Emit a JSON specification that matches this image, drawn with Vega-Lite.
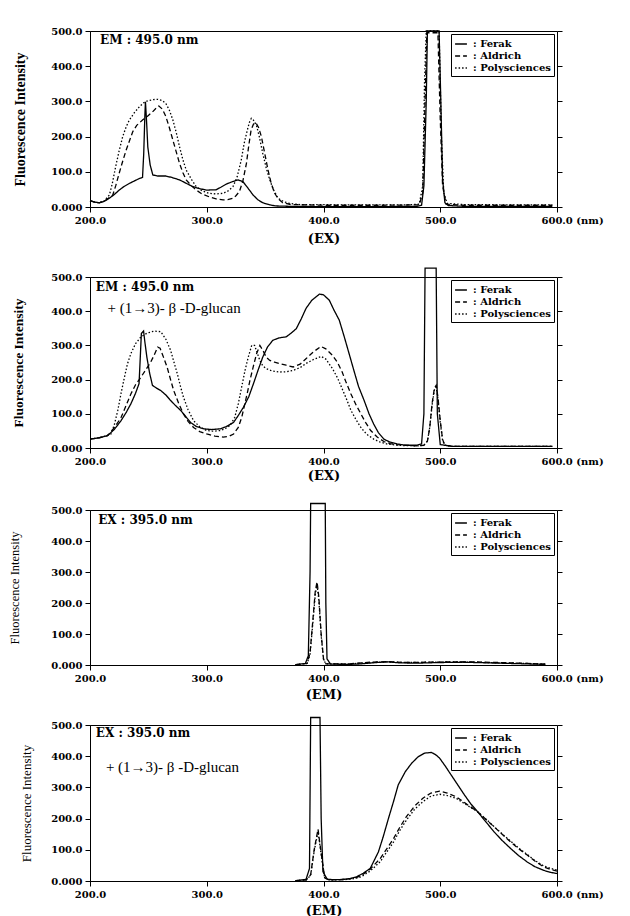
{
"$schema": "https://vega.github.io/schema/vega-lite/v6.json",
"padding": {"left": 8, "top": 25, "right": 5, "bottom": 5},
"background": "white",
"config": {
 "view": {"stroke": "#000", "strokeWidth": 1},
 "axis": {"domainColor": "#000", "tickColor": "#000", "labelColor": "#000", "titleColor": "#000", "grid": false, "tickSize": 5, "labelFont": "DejaVu Serif", "labelFontWeight": "bold", "labelFontSize": 10, "labelFlush": false, "labelPadding": 3, "titleFont": "Liberation Serif", "titleFontSize": 14},
 "legend": {"orient": "top-right", "offset": 3, "strokeColor": "#000", "fillColor": "white", "padding": 3, "rowPadding": 0, "symbolType": "stroke", "symbolSize": 140, "symbolStrokeWidth": 1.2, "symbolStrokeColor": "#000", "labelFont": "DejaVu Serif", "labelFontWeight": "bold", "labelFontSize": 10, "labelColor": "#000", "labelOffset": 5, "cornerRadius": 0},
 "line": {"color": "#000", "strokeWidth": 1.3},
 "text": {"color": "#000"}
},
"datasets": {
 "p1": [
 {"s":"Ferak","nm":200,"v":18},{"s":"Ferak","nm":204,"v":14},{"s":"Ferak","nm":208,"v":12},{"s":"Ferak","nm":212,"v":16},{"s":"Ferak","nm":216.6,"v":25},{"s":"Ferak","nm":221,"v":36},{"s":"Ferak","nm":225,"v":48},{"s":"Ferak","nm":229,"v":58},{"s":"Ferak","nm":233.7,"v":67},{"s":"Ferak","nm":238,"v":74},{"s":"Ferak","nm":242.3,"v":81},{"s":"Ferak","nm":245,"v":84},{"s":"Ferak","nm":246,"v":150},{"s":"Ferak","nm":247,"v":260},{"s":"Ferak","nm":247.5,"v":299},{"s":"Ferak","nm":248.5,"v":240},{"s":"Ferak","nm":249.5,"v":171},{"s":"Ferak","nm":251.5,"v":120},{"s":"Ferak","nm":253.8,"v":91},{"s":"Ferak","nm":258,"v":88},{"s":"Ferak","nm":265,"v":88},{"s":"Ferak","nm":270,"v":84},{"s":"Ferak","nm":276.7,"v":77},{"s":"Ferak","nm":282,"v":68},{"s":"Ferak","nm":288,"v":58},{"s":"Ferak","nm":294,"v":52},{"s":"Ferak","nm":300,"v":48},{"s":"Ferak","nm":308,"v":49},{"s":"Ferak","nm":312,"v":56},{"s":"Ferak","nm":316.7,"v":65},{"s":"Ferak","nm":322,"v":72},{"s":"Ferak","nm":326.8,"v":77},{"s":"Ferak","nm":331,"v":72},{"s":"Ferak","nm":335,"v":55},{"s":"Ferak","nm":339.7,"v":34},{"s":"Ferak","nm":344,"v":20},{"s":"Ferak","nm":348,"v":12},{"s":"Ferak","nm":354,"v":6},{"s":"Ferak","nm":359,"v":3},{"s":"Ferak","nm":370,"v":2},{"s":"Ferak","nm":400,"v":1},{"s":"Ferak","nm":450,"v":1},{"s":"Ferak","nm":480,"v":2},{"s":"Ferak","nm":484,"v":5},{"s":"Ferak","nm":486,"v":60},{"s":"Ferak","nm":488,"v":300},{"s":"Ferak","nm":489,"v":500},{"s":"Ferak","nm":499,"v":500},{"s":"Ferak","nm":500.5,"v":300},{"s":"Ferak","nm":502,"v":80},{"s":"Ferak","nm":504,"v":12},{"s":"Ferak","nm":507,"v":4},{"s":"Ferak","nm":520,"v":2},{"s":"Ferak","nm":560,"v":2},{"s":"Ferak","nm":596,"v":2},
 {"s":"Aldrich","nm":200,"v":18},{"s":"Aldrich","nm":204,"v":14},{"s":"Aldrich","nm":208,"v":12},{"s":"Aldrich","nm":213,"v":18},{"s":"Aldrich","nm":219.5,"v":34},{"s":"Aldrich","nm":222,"v":60},{"s":"Aldrich","nm":225,"v":96},{"s":"Aldrich","nm":228,"v":130},{"s":"Aldrich","nm":231,"v":162},{"s":"Aldrich","nm":236.6,"v":214},{"s":"Aldrich","nm":240,"v":232},{"s":"Aldrich","nm":245,"v":247},{"s":"Aldrich","nm":250,"v":260},{"s":"Aldrich","nm":253.8,"v":271},{"s":"Aldrich","nm":257,"v":282},{"s":"Aldrich","nm":259,"v":287},{"s":"Aldrich","nm":262,"v":278},{"s":"Aldrich","nm":265,"v":257},{"s":"Aldrich","nm":268,"v":225},{"s":"Aldrich","nm":271,"v":190},{"s":"Aldrich","nm":274,"v":155},{"s":"Aldrich","nm":276.7,"v":124},{"s":"Aldrich","nm":279.5,"v":98},{"s":"Aldrich","nm":282.4,"v":77},{"s":"Aldrich","nm":287,"v":60},{"s":"Aldrich","nm":291,"v":48},{"s":"Aldrich","nm":296,"v":37},{"s":"Aldrich","nm":302,"v":29},{"s":"Aldrich","nm":308,"v":23},{"s":"Aldrich","nm":314,"v":20},{"s":"Aldrich","nm":318,"v":21},{"s":"Aldrich","nm":322.5,"v":25},{"s":"Aldrich","nm":325,"v":32},{"s":"Aldrich","nm":328,"v":44},{"s":"Aldrich","nm":331,"v":75},{"s":"Aldrich","nm":334,"v":124},{"s":"Aldrich","nm":336,"v":175},{"s":"Aldrich","nm":338,"v":219},{"s":"Aldrich","nm":340,"v":235},{"s":"Aldrich","nm":342,"v":240},{"s":"Aldrich","nm":344.5,"v":225},{"s":"Aldrich","nm":346.8,"v":200},{"s":"Aldrich","nm":349.5,"v":155},{"s":"Aldrich","nm":352.5,"v":105},{"s":"Aldrich","nm":355,"v":70},{"s":"Aldrich","nm":358,"v":40},{"s":"Aldrich","nm":361,"v":24},{"s":"Aldrich","nm":365,"v":12},{"s":"Aldrich","nm":372,"v":7},{"s":"Aldrich","nm":400,"v":5},{"s":"Aldrich","nm":450,"v":5},{"s":"Aldrich","nm":482,"v":6},{"s":"Aldrich","nm":485,"v":40},{"s":"Aldrich","nm":487,"v":300},{"s":"Aldrich","nm":488.5,"v":495},{"s":"Aldrich","nm":498,"v":495},{"s":"Aldrich","nm":500,"v":250},{"s":"Aldrich","nm":502,"v":60},{"s":"Aldrich","nm":505,"v":8},{"s":"Aldrich","nm":520,"v":5},{"s":"Aldrich","nm":560,"v":5},{"s":"Aldrich","nm":596,"v":5},
 {"s":"Polysciences","nm":200,"v":18},{"s":"Polysciences","nm":204,"v":14},{"s":"Polysciences","nm":208,"v":12},{"s":"Polysciences","nm":212,"v":17},{"s":"Polysciences","nm":216.6,"v":34},{"s":"Polysciences","nm":219,"v":65},{"s":"Polysciences","nm":222,"v":115},{"s":"Polysciences","nm":225,"v":160},{"s":"Polysciences","nm":228,"v":200},{"s":"Polysciences","nm":231,"v":228},{"s":"Polysciences","nm":233.7,"v":247},{"s":"Polysciences","nm":238,"v":268},{"s":"Polysciences","nm":242.3,"v":285},{"s":"Polysciences","nm":246,"v":296},{"s":"Polysciences","nm":249.5,"v":302},{"s":"Polysciences","nm":254,"v":305},{"s":"Polysciences","nm":258,"v":306},{"s":"Polysciences","nm":262,"v":302},{"s":"Polysciences","nm":265,"v":294},{"s":"Polysciences","nm":268,"v":275},{"s":"Polysciences","nm":271,"v":247},{"s":"Polysciences","nm":274,"v":210},{"s":"Polysciences","nm":276.7,"v":171},{"s":"Polysciences","nm":279.5,"v":135},{"s":"Polysciences","nm":282.4,"v":105},{"s":"Polysciences","nm":287,"v":78},{"s":"Polysciences","nm":291,"v":58},{"s":"Polysciences","nm":296,"v":46},{"s":"Polysciences","nm":302,"v":39},{"s":"Polysciences","nm":308,"v":37},{"s":"Polysciences","nm":314,"v":39},{"s":"Polysciences","nm":318,"v":45},{"s":"Polysciences","nm":322.5,"v":58},{"s":"Polysciences","nm":326,"v":85},{"s":"Polysciences","nm":329.6,"v":134},{"s":"Polysciences","nm":332,"v":180},{"s":"Polysciences","nm":334.8,"v":219},{"s":"Polysciences","nm":336.5,"v":240},{"s":"Polysciences","nm":338.2,"v":252},{"s":"Polysciences","nm":340,"v":247},{"s":"Polysciences","nm":342.5,"v":233},{"s":"Polysciences","nm":345,"v":200},{"s":"Polysciences","nm":348,"v":152},{"s":"Polysciences","nm":351,"v":110},{"s":"Polysciences","nm":354,"v":77},{"s":"Polysciences","nm":357,"v":50},{"s":"Polysciences","nm":361,"v":25},{"s":"Polysciences","nm":366,"v":15},{"s":"Polysciences","nm":371,"v":10},{"s":"Polysciences","nm":380,"v":7},{"s":"Polysciences","nm":420,"v":6},{"s":"Polysciences","nm":470,"v":6},{"s":"Polysciences","nm":482,"v":8},{"s":"Polysciences","nm":485,"v":60},{"s":"Polysciences","nm":486.5,"v":350},{"s":"Polysciences","nm":488,"v":500},{"s":"Polysciences","nm":499,"v":500},{"s":"Polysciences","nm":501,"v":200},{"s":"Polysciences","nm":503,"v":40},{"s":"Polysciences","nm":506,"v":10},{"s":"Polysciences","nm":520,"v":7},{"s":"Polysciences","nm":560,"v":6},{"s":"Polysciences","nm":596,"v":6}
 ],
 "p2": [
 {"s":"Ferak","nm":200,"v":26},{"s":"Ferak","nm":208,"v":30},{"s":"Ferak","nm":215,"v":36},{"s":"Ferak","nm":221,"v":55},{"s":"Ferak","nm":226.6,"v":80},{"s":"Ferak","nm":231,"v":104},{"s":"Ferak","nm":235,"v":129},{"s":"Ferak","nm":239,"v":160},{"s":"Ferak","nm":242,"v":188},{"s":"Ferak","nm":243,"v":260},{"s":"Ferak","nm":244,"v":335},{"s":"Ferak","nm":245.9,"v":342},{"s":"Ferak","nm":247,"v":310},{"s":"Ferak","nm":248.7,"v":266},{"s":"Ferak","nm":251,"v":220},{"s":"Ferak","nm":253.5,"v":183},{"s":"Ferak","nm":257,"v":175},{"s":"Ferak","nm":260.6,"v":168},{"s":"Ferak","nm":265,"v":155},{"s":"Ferak","nm":269,"v":139},{"s":"Ferak","nm":273,"v":125},{"s":"Ferak","nm":277.6,"v":110},{"s":"Ferak","nm":282,"v":92},{"s":"Ferak","nm":286,"v":75},{"s":"Ferak","nm":291,"v":63},{"s":"Ferak","nm":297.4,"v":56},{"s":"Ferak","nm":304,"v":54},{"s":"Ferak","nm":311.6,"v":56},{"s":"Ferak","nm":317,"v":63},{"s":"Ferak","nm":323,"v":75},{"s":"Ferak","nm":327,"v":95},{"s":"Ferak","nm":331.4,"v":119},{"s":"Ferak","nm":336,"v":150},{"s":"Ferak","nm":340,"v":188},{"s":"Ferak","nm":344,"v":228},{"s":"Ferak","nm":348,"v":266},{"s":"Ferak","nm":352,"v":295},{"s":"Ferak","nm":356.6,"v":315},{"s":"Ferak","nm":362,"v":322},{"s":"Ferak","nm":368,"v":325},{"s":"Ferak","nm":372,"v":335},{"s":"Ferak","nm":376.7,"v":349},{"s":"Ferak","nm":381,"v":378},{"s":"Ferak","nm":385,"v":408},{"s":"Ferak","nm":390,"v":432},{"s":"Ferak","nm":396.5,"v":450},{"s":"Ferak","nm":400,"v":448},{"s":"Ferak","nm":405,"v":432},{"s":"Ferak","nm":409,"v":403},{"s":"Ferak","nm":413.5,"v":374},{"s":"Ferak","nm":417.8,"v":325},{"s":"Ferak","nm":422,"v":275},{"s":"Ferak","nm":426,"v":227},{"s":"Ferak","nm":430,"v":180},{"s":"Ferak","nm":434.8,"v":139},{"s":"Ferak","nm":439,"v":100},{"s":"Ferak","nm":443,"v":70},{"s":"Ferak","nm":447,"v":45},{"s":"Ferak","nm":451.7,"v":26},{"s":"Ferak","nm":457,"v":17},{"s":"Ferak","nm":463,"v":12},{"s":"Ferak","nm":470,"v":8},{"s":"Ferak","nm":480,"v":8},{"s":"Ferak","nm":484,"v":12},{"s":"Ferak","nm":486,"v":100},{"s":"Ferak","nm":487,"v":526},{"s":"Ferak","nm":496.5,"v":526},{"s":"Ferak","nm":497.5,"v":100},{"s":"Ferak","nm":500,"v":10},{"s":"Ferak","nm":510,"v":5},{"s":"Ferak","nm":550,"v":5},{"s":"Ferak","nm":596,"v":5},
 {"s":"Aldrich","nm":200,"v":26},{"s":"Aldrich","nm":208,"v":30},{"s":"Aldrich","nm":215,"v":36},{"s":"Aldrich","nm":221,"v":60},{"s":"Aldrich","nm":226.6,"v":89},{"s":"Aldrich","nm":231,"v":125},{"s":"Aldrich","nm":235,"v":158},{"s":"Aldrich","nm":239,"v":185},{"s":"Aldrich","nm":243.6,"v":207},{"s":"Aldrich","nm":248,"v":230},{"s":"Aldrich","nm":252,"v":251},{"s":"Aldrich","nm":255,"v":272},{"s":"Aldrich","nm":258,"v":295},{"s":"Aldrich","nm":260,"v":292},{"s":"Aldrich","nm":263,"v":265},{"s":"Aldrich","nm":266,"v":237},{"s":"Aldrich","nm":269,"v":200},{"s":"Aldrich","nm":271.7,"v":168},{"s":"Aldrich","nm":276,"v":130},{"s":"Aldrich","nm":280,"v":100},{"s":"Aldrich","nm":284,"v":78},{"s":"Aldrich","nm":288.7,"v":60},{"s":"Aldrich","nm":294,"v":48},{"s":"Aldrich","nm":300,"v":41},{"s":"Aldrich","nm":307,"v":35},{"s":"Aldrich","nm":314,"v":32},{"s":"Aldrich","nm":319,"v":34},{"s":"Aldrich","nm":323,"v":41},{"s":"Aldrich","nm":327,"v":60},{"s":"Aldrich","nm":330,"v":90},{"s":"Aldrich","nm":333,"v":135},{"s":"Aldrich","nm":335,"v":165},{"s":"Aldrich","nm":337,"v":198},{"s":"Aldrich","nm":340,"v":240},{"s":"Aldrich","nm":342.7,"v":276},{"s":"Aldrich","nm":345.5,"v":300},{"s":"Aldrich","nm":348,"v":286},{"s":"Aldrich","nm":351,"v":265},{"s":"Aldrich","nm":354,"v":256},{"s":"Aldrich","nm":358,"v":251},{"s":"Aldrich","nm":362.3,"v":247},{"s":"Aldrich","nm":368,"v":242},{"s":"Aldrich","nm":374,"v":237},{"s":"Aldrich","nm":380,"v":245},{"s":"Aldrich","nm":385,"v":261},{"s":"Aldrich","nm":391,"v":280},{"s":"Aldrich","nm":397.7,"v":297},{"s":"Aldrich","nm":402,"v":290},{"s":"Aldrich","nm":407.7,"v":271},{"s":"Aldrich","nm":412,"v":250},{"s":"Aldrich","nm":416,"v":222},{"s":"Aldrich","nm":419,"v":195},{"s":"Aldrich","nm":423.5,"v":158},{"s":"Aldrich","nm":428,"v":125},{"s":"Aldrich","nm":432,"v":100},{"s":"Aldrich","nm":436,"v":75},{"s":"Aldrich","nm":440.4,"v":51},{"s":"Aldrich","nm":446,"v":32},{"s":"Aldrich","nm":451.7,"v":19},{"s":"Aldrich","nm":457,"v":13},{"s":"Aldrich","nm":463,"v":10},{"s":"Aldrich","nm":480,"v":6},{"s":"Aldrich","nm":486,"v":8},{"s":"Aldrich","nm":489,"v":20},{"s":"Aldrich","nm":491,"v":60},{"s":"Aldrich","nm":493,"v":130},{"s":"Aldrich","nm":495,"v":175},{"s":"Aldrich","nm":496.5,"v":183},{"s":"Aldrich","nm":498,"v":150},{"s":"Aldrich","nm":500,"v":80},{"s":"Aldrich","nm":502,"v":25},{"s":"Aldrich","nm":504,"v":8},{"s":"Aldrich","nm":510,"v":5},{"s":"Aldrich","nm":550,"v":5},{"s":"Aldrich","nm":596,"v":5},
 {"s":"Polysciences","nm":200,"v":26},{"s":"Polysciences","nm":208,"v":30},{"s":"Polysciences","nm":213,"v":35},{"s":"Polysciences","nm":218,"v":41},{"s":"Polysciences","nm":221,"v":70},{"s":"Polysciences","nm":223.8,"v":110},{"s":"Polysciences","nm":226.6,"v":160},{"s":"Polysciences","nm":229.5,"v":207},{"s":"Polysciences","nm":232,"v":245},{"s":"Polysciences","nm":235,"v":276},{"s":"Polysciences","nm":239,"v":305},{"s":"Polysciences","nm":243.6,"v":325},{"s":"Polysciences","nm":249,"v":336},{"s":"Polysciences","nm":255,"v":342},{"s":"Polysciences","nm":260.6,"v":340},{"s":"Polysciences","nm":265,"v":318},{"s":"Polysciences","nm":269,"v":286},{"s":"Polysciences","nm":272,"v":250},{"s":"Polysciences","nm":274.8,"v":217},{"s":"Polysciences","nm":277.5,"v":180},{"s":"Polysciences","nm":280,"v":149},{"s":"Polysciences","nm":284,"v":112},{"s":"Polysciences","nm":288.7,"v":80},{"s":"Polysciences","nm":294,"v":62},{"s":"Polysciences","nm":300,"v":51},{"s":"Polysciences","nm":306,"v":49},{"s":"Polysciences","nm":311.6,"v":51},{"s":"Polysciences","nm":316,"v":57},{"s":"Polysciences","nm":320,"v":66},{"s":"Polysciences","nm":324,"v":90},{"s":"Polysciences","nm":327,"v":129},{"s":"Polysciences","nm":330,"v":180},{"s":"Polysciences","nm":332.8,"v":227},{"s":"Polysciences","nm":335.5,"v":265},{"s":"Polysciences","nm":338.5,"v":300},{"s":"Polysciences","nm":341,"v":300},{"s":"Polysciences","nm":343,"v":280},{"s":"Polysciences","nm":345.5,"v":256},{"s":"Polysciences","nm":348,"v":240},{"s":"Polysciences","nm":351,"v":232},{"s":"Polysciences","nm":356,"v":225},{"s":"Polysciences","nm":362,"v":222},{"s":"Polysciences","nm":368,"v":223},{"s":"Polysciences","nm":374,"v":227},{"s":"Polysciences","nm":380,"v":235},{"s":"Polysciences","nm":385,"v":247},{"s":"Polysciences","nm":391,"v":258},{"s":"Polysciences","nm":398,"v":268},{"s":"Polysciences","nm":402,"v":260},{"s":"Polysciences","nm":407.7,"v":232},{"s":"Polysciences","nm":412,"v":205},{"s":"Polysciences","nm":416,"v":173},{"s":"Polysciences","nm":419.5,"v":145},{"s":"Polysciences","nm":423.5,"v":110},{"s":"Polysciences","nm":428,"v":82},{"s":"Polysciences","nm":432,"v":60},{"s":"Polysciences","nm":437,"v":40},{"s":"Polysciences","nm":443,"v":26},{"s":"Polysciences","nm":448,"v":18},{"s":"Polysciences","nm":454,"v":12},{"s":"Polysciences","nm":463,"v":8},{"s":"Polysciences","nm":480,"v":6},{"s":"Polysciences","nm":486,"v":8},{"s":"Polysciences","nm":489,"v":20},{"s":"Polysciences","nm":491,"v":60},{"s":"Polysciences","nm":493,"v":125},{"s":"Polysciences","nm":495,"v":170},{"s":"Polysciences","nm":496.5,"v":178},{"s":"Polysciences","nm":498,"v":145},{"s":"Polysciences","nm":500,"v":75},{"s":"Polysciences","nm":502,"v":22},{"s":"Polysciences","nm":504,"v":8},{"s":"Polysciences","nm":510,"v":5},{"s":"Polysciences","nm":550,"v":5},{"s":"Polysciences","nm":596,"v":5}
 ],
 "p3": [
 {"s":"Ferak","nm":376,"v":1},{"s":"Ferak","nm":384.5,"v":5},{"s":"Ferak","nm":387,"v":30},{"s":"Ferak","nm":388.5,"v":300},{"s":"Ferak","nm":389,"v":521},{"s":"Ferak","nm":401.5,"v":521},{"s":"Ferak","nm":402,"v":200},{"s":"Ferak","nm":403,"v":20},{"s":"Ferak","nm":406,"v":3},{"s":"Ferak","nm":420,"v":2},{"s":"Ferak","nm":430,"v":3},{"s":"Ferak","nm":445,"v":8},{"s":"Ferak","nm":455,"v":10},{"s":"Ferak","nm":465,"v":7},{"s":"Ferak","nm":480,"v":6},{"s":"Ferak","nm":500,"v":8},{"s":"Ferak","nm":520,"v":9},{"s":"Ferak","nm":540,"v":7},{"s":"Ferak","nm":560,"v":5},{"s":"Ferak","nm":590,"v":2},
 {"s":"Aldrich","nm":376,"v":1},{"s":"Aldrich","nm":386,"v":5},{"s":"Aldrich","nm":388.5,"v":40},{"s":"Aldrich","nm":391,"v":150},{"s":"Aldrich","nm":393,"v":240},{"s":"Aldrich","nm":394.5,"v":268},{"s":"Aldrich","nm":396,"v":220},{"s":"Aldrich","nm":398,"v":100},{"s":"Aldrich","nm":400,"v":20},{"s":"Aldrich","nm":402,"v":4},{"s":"Aldrich","nm":420,"v":3},{"s":"Aldrich","nm":440,"v":9},{"s":"Aldrich","nm":455,"v":11},{"s":"Aldrich","nm":470,"v":8},{"s":"Aldrich","nm":490,"v":9},{"s":"Aldrich","nm":510,"v":10},{"s":"Aldrich","nm":530,"v":10},{"s":"Aldrich","nm":550,"v":8},{"s":"Aldrich","nm":575,"v":5},{"s":"Aldrich","nm":590,"v":3},
 {"s":"Polysciences","nm":376,"v":1},{"s":"Polysciences","nm":386,"v":5},{"s":"Polysciences","nm":388.5,"v":35},{"s":"Polysciences","nm":391,"v":140},{"s":"Polysciences","nm":393,"v":230},{"s":"Polysciences","nm":394.5,"v":258},{"s":"Polysciences","nm":396,"v":210},{"s":"Polysciences","nm":398,"v":95},{"s":"Polysciences","nm":400,"v":18},{"s":"Polysciences","nm":402,"v":4},{"s":"Polysciences","nm":420,"v":3},{"s":"Polysciences","nm":440,"v":8},{"s":"Polysciences","nm":455,"v":10},{"s":"Polysciences","nm":470,"v":8},{"s":"Polysciences","nm":490,"v":9},{"s":"Polysciences","nm":510,"v":10},{"s":"Polysciences","nm":530,"v":9},{"s":"Polysciences","nm":550,"v":7},{"s":"Polysciences","nm":575,"v":5},{"s":"Polysciences","nm":590,"v":3}
 ],
 "p4": [
 {"s":"Ferak","nm":376,"v":1},{"s":"Ferak","nm":385,"v":5},{"s":"Ferak","nm":388,"v":40},{"s":"Ferak","nm":389,"v":524},{"s":"Ferak","nm":397,"v":524},{"s":"Ferak","nm":398,"v":200},{"s":"Ferak","nm":399.5,"v":30},{"s":"Ferak","nm":403.3,"v":5},{"s":"Ferak","nm":415,"v":4},{"s":"Ferak","nm":423,"v":8},{"s":"Ferak","nm":428.7,"v":14},{"s":"Ferak","nm":434,"v":25},{"s":"Ferak","nm":440,"v":40},{"s":"Ferak","nm":447,"v":93},{"s":"Ferak","nm":451,"v":140},{"s":"Ferak","nm":455.6,"v":200},{"s":"Ferak","nm":460,"v":255},{"s":"Ferak","nm":464,"v":308},{"s":"Ferak","nm":470,"v":350},{"s":"Ferak","nm":475.4,"v":377},{"s":"Ferak","nm":481,"v":398},{"s":"Ferak","nm":486.7,"v":410},{"s":"Ferak","nm":492.4,"v":412},{"s":"Ferak","nm":496,"v":405},{"s":"Ferak","nm":499.4,"v":394},{"s":"Ferak","nm":504,"v":370},{"s":"Ferak","nm":509.3,"v":340},{"s":"Ferak","nm":515,"v":308},{"s":"Ferak","nm":520.7,"v":276},{"s":"Ferak","nm":526,"v":248},{"s":"Ferak","nm":532,"v":222},{"s":"Ferak","nm":539,"v":190},{"s":"Ferak","nm":546,"v":158},{"s":"Ferak","nm":553,"v":130},{"s":"Ferak","nm":560.3,"v":104},{"s":"Ferak","nm":567,"v":82},{"s":"Ferak","nm":574.5,"v":61},{"s":"Ferak","nm":581,"v":46},{"s":"Ferak","nm":588.7,"v":34},{"s":"Ferak","nm":594,"v":28},{"s":"Ferak","nm":600,"v":24},
 {"s":"Aldrich","nm":376,"v":1},{"s":"Aldrich","nm":385,"v":3},{"s":"Aldrich","nm":389,"v":20},{"s":"Aldrich","nm":392,"v":100},{"s":"Aldrich","nm":395.3,"v":166},{"s":"Aldrich","nm":398,"v":90},{"s":"Aldrich","nm":401,"v":10},{"s":"Aldrich","nm":405,"v":3},{"s":"Aldrich","nm":420,"v":6},{"s":"Aldrich","nm":427,"v":10},{"s":"Aldrich","nm":432.6,"v":18},{"s":"Aldrich","nm":440,"v":38},{"s":"Aldrich","nm":448.6,"v":72},{"s":"Aldrich","nm":454,"v":102},{"s":"Aldrich","nm":460,"v":136},{"s":"Aldrich","nm":465,"v":170},{"s":"Aldrich","nm":471,"v":206},{"s":"Aldrich","nm":478,"v":240},{"s":"Aldrich","nm":485.4,"v":266},{"s":"Aldrich","nm":492,"v":282},{"s":"Aldrich","nm":499.6,"v":288},{"s":"Aldrich","nm":506,"v":282},{"s":"Aldrich","nm":513.7,"v":270},{"s":"Aldrich","nm":522,"v":248},{"s":"Aldrich","nm":532,"v":222},{"s":"Aldrich","nm":539,"v":198},{"s":"Aldrich","nm":546,"v":174},{"s":"Aldrich","nm":553,"v":150},{"s":"Aldrich","nm":560.3,"v":125},{"s":"Aldrich","nm":567,"v":104},{"s":"Aldrich","nm":574.5,"v":83},{"s":"Aldrich","nm":581,"v":64},{"s":"Aldrich","nm":588.7,"v":45},{"s":"Aldrich","nm":594,"v":38},{"s":"Aldrich","nm":600,"v":32},
 {"s":"Polysciences","nm":376,"v":1},{"s":"Polysciences","nm":385,"v":3},{"s":"Polysciences","nm":389,"v":18},{"s":"Polysciences","nm":392,"v":95},{"s":"Polysciences","nm":395.3,"v":158},{"s":"Polysciences","nm":398,"v":85},{"s":"Polysciences","nm":401,"v":10},{"s":"Polysciences","nm":405,"v":3},{"s":"Polysciences","nm":420,"v":5},{"s":"Polysciences","nm":427,"v":8},{"s":"Polysciences","nm":432.6,"v":14},{"s":"Polysciences","nm":440,"v":32},{"s":"Polysciences","nm":448.6,"v":62},{"s":"Polysciences","nm":454,"v":92},{"s":"Polysciences","nm":460,"v":125},{"s":"Polysciences","nm":465,"v":160},{"s":"Polysciences","nm":471,"v":195},{"s":"Polysciences","nm":478,"v":230},{"s":"Polysciences","nm":485.4,"v":255},{"s":"Polysciences","nm":492,"v":272},{"s":"Polysciences","nm":499.6,"v":278},{"s":"Polysciences","nm":506,"v":274},{"s":"Polysciences","nm":513.7,"v":265},{"s":"Polysciences","nm":522,"v":245},{"s":"Polysciences","nm":532,"v":222},{"s":"Polysciences","nm":539,"v":199},{"s":"Polysciences","nm":546,"v":175},{"s":"Polysciences","nm":553,"v":151},{"s":"Polysciences","nm":560.3,"v":128},{"s":"Polysciences","nm":567,"v":106},{"s":"Polysciences","nm":574.5,"v":85},{"s":"Polysciences","nm":581,"v":66},{"s":"Polysciences","nm":588.7,"v":48},{"s":"Polysciences","nm":594,"v":41},{"s":"Polysciences","nm":600,"v":35}
 ],
 "t1": [{"nm": 208.6, "v": 474, "label": "EM : 495.0 nm"}],
 "t2": [{"nm": 205, "v": 472, "label": "EM : 495.0 nm"}],
 "g2": [{"nm": 215, "v": 409, "label": "+ (1→3)- β -D-glucan"}],
 "t3": [{"nm": 207, "v": 468, "label": "EX : 395.0 nm"}],
 "t4": [{"nm": 205, "v": 475, "label": "EX : 395.0 nm"}],
 "g4": [{"nm": 213.6, "v": 366, "label": "+ (1→3)- β -D-glucan"}]
},
"spacing": 17,
"resolve": {"scale": {"strokeDash": "independent"}, "legend": {"strokeDash": "independent"}},
"vconcat": [
 {
  "bounds": "flush",
  "spacing": 70,
  "resolve": {"scale": {"strokeDash": "independent"}, "legend": {"strokeDash": "independent"}},
  "vconcat": [
   {
    "width": 467, "height": 176,
    "encoding": {"x": {"field": "nm", "type": "quantitative", "scale": {"domain": [200, 600], "nice": false},
      "axis": {"values": [200, 300, 400, 500, 600], "title": "(EX)", "titleFont": "DejaVu Serif", "titleFontWeight": "bold", "titleFontSize": 13, "titlePadding": 7,
        "labelExpr": "datum.value == 600 ? '600.0 (nm)' : format(datum.value, '.1f')",
        "labelAlign": {"condition": {"test": "datum.value == 600", "value": "left"}, "value": "center"},
        "labelOffset": {"condition": {"test": "datum.value == 600", "value": -16}, "value": 0}}}},
    "layer": [
     {"data": {"name": "p1"}, "mark": {"type": "line"},
      "encoding": {"y": {"field": "v", "type": "quantitative", "scale": {"domain": [0, 500], "nice": false},
        "axis": {"values": [0, 100, 200, 300, 400, 500], "title": "Fluorescence Intensity", "titleFontWeight": "bold", "titleFontSize": 14, "titlePadding": 23,
          "labelExpr": "datum.value == 0 ? '0.000' : format(datum.value, '.1f')"}},
        "strokeDash": {"field": "s", "type": "nominal", "scale": {"domain": ["Ferak", "Aldrich", "Polysciences"], "range": [[1, 0], [5, 3], [1.5, 2]]}, "legend": {"title": null, "labelExpr": "': ' + datum.label"}}}},
     {"data": {"name": "t1"}, "mark": {"type": "text", "align": "left", "baseline": "middle", "font": "DejaVu Serif", "fontWeight": "bold", "fontSize": 12},
      "encoding": {"y": {"field": "v", "type": "quantitative", "scale": {"domain": [0, 500], "nice": false},
        "axis": {"orient": "right", "values": [0, 100, 200, 300, 400, 500], "labels": false, "title": null, "domain": false}},
        "text": {"field": "label"}}}
    ],
    "resolve": {"axis": {"y": "independent"}}
   },
   {
    "width": 467, "height": 171,
    "encoding": {"x": {"field": "nm", "type": "quantitative", "scale": {"domain": [200, 600], "nice": false},
      "axis": {"values": [200, 300, 400, 500, 600], "title": "(EX)", "titleFont": "DejaVu Serif", "titleFontWeight": "bold", "titleFontSize": 13, "titlePadding": 3,
        "labelExpr": "datum.value == 600 ? '600.0 (nm)' : format(datum.value, '.1f')",
        "labelAlign": {"condition": {"test": "datum.value == 600", "value": "left"}, "value": "center"},
        "labelOffset": {"condition": {"test": "datum.value == 600", "value": -16}, "value": 0}}}},
    "layer": [
     {"data": {"name": "p2"}, "mark": {"type": "line"},
      "encoding": {"y": {"field": "v", "type": "quantitative", "scale": {"domain": [0, 500], "nice": false},
        "axis": {"values": [0, 100, 200, 300, 400, 500], "title": "Fluorescence Intensity", "titleFontWeight": "bold", "titleFontSize": 13.5, "titlePadding": 25,
          "labelExpr": "datum.value == 0 ? '0.000' : format(datum.value, '.1f')"}},
        "strokeDash": {"field": "s", "type": "nominal", "scale": {"domain": ["Ferak", "Aldrich", "Polysciences"], "range": [[1, 0], [5, 3], [1.5, 2]]}, "legend": {"title": null, "labelExpr": "': ' + datum.label"}}}},
     {"data": {"name": "t2"}, "mark": {"type": "text", "align": "left", "baseline": "middle", "font": "DejaVu Serif", "fontWeight": "bold", "fontSize": 12},
      "encoding": {"y": {"field": "v", "type": "quantitative", "scale": {"domain": [0, 500], "nice": false},
        "axis": {"orient": "right", "values": [0, 100, 200, 300, 400, 500], "labels": false, "title": null, "domain": false}},
        "text": {"field": "label"}}},
     {"data": {"name": "g2"}, "mark": {"type": "text", "align": "left", "baseline": "middle", "font": "Liberation Serif", "fontSize": 15},
      "encoding": {"y": {"field": "v", "type": "quantitative", "scale": {"domain": [0, 500], "nice": false}, "axis": null},
        "text": {"field": "label"}}}
    ],
    "resolve": {"axis": {"y": "independent"}}
   }
  ]
 },
 {
  "bounds": "flush",
  "spacing": 60,
  "resolve": {"scale": {"strokeDash": "independent"}, "legend": {"strokeDash": "independent"}},
  "vconcat": [
   {
    "width": 467, "height": 155,
    "encoding": {"x": {"field": "nm", "type": "quantitative", "scale": {"domain": [200, 600], "nice": false},
      "axis": {"values": [200, 300, 400, 500, 600], "title": "(EM)", "titleFont": "DejaVu Serif", "titleFontWeight": "bold", "titleFontSize": 13, "titlePadding": 5,
        "labelExpr": "datum.value == 600 ? '600.0 (nm)' : format(datum.value, '.1f')",
        "labelAlign": {"condition": {"test": "datum.value == 600", "value": "left"}, "value": "center"},
        "labelOffset": {"condition": {"test": "datum.value == 600", "value": -16}, "value": 0}}}},
    "layer": [
     {"data": {"name": "p3"}, "mark": {"type": "line"},
      "encoding": {"y": {"field": "v", "type": "quantitative", "scale": {"domain": [0, 500], "nice": false},
        "axis": {"values": [0, 100, 200, 300, 400, 500], "title": "Fluorescence Intensity", "titleFontWeight": "normal", "titleFontSize": 12.5, "titlePadding": 29,
          "labelExpr": "datum.value == 0 ? '0.000' : format(datum.value, '.1f')"}},
        "strokeDash": {"field": "s", "type": "nominal", "scale": {"domain": ["Ferak", "Aldrich", "Polysciences"], "range": [[1, 0], [5, 3], [1.5, 2]]}, "legend": {"title": null, "labelExpr": "': ' + datum.label"}}}},
     {"data": {"name": "t3"}, "mark": {"type": "text", "align": "left", "baseline": "middle", "font": "DejaVu Serif", "fontWeight": "bold", "fontSize": 12},
      "encoding": {"y": {"field": "v", "type": "quantitative", "scale": {"domain": [0, 500], "nice": false},
        "axis": {"orient": "right", "values": [0, 100, 200, 300, 400, 500], "labels": false, "title": null, "domain": false}},
        "text": {"field": "label"}}}
    ],
    "resolve": {"axis": {"y": "independent"}}
   },
   {
    "width": 467, "height": 156,
    "encoding": {"x": {"field": "nm", "type": "quantitative", "scale": {"domain": [200, 600], "nice": false},
      "axis": {"values": [200, 300, 400, 500, 600], "title": "(EM)", "titleFont": "DejaVu Serif", "titleFontWeight": "bold", "titleFontSize": 13, "titlePadding": 5,
        "labelExpr": "datum.value == 600 ? '600.0 (nm)' : format(datum.value, '.1f')",
        "labelAlign": {"condition": {"test": "datum.value == 600", "value": "left"}, "value": "center"},
        "labelOffset": {"condition": {"test": "datum.value == 600", "value": -16}, "value": 0}}}},
    "layer": [
     {"data": {"name": "p4"}, "mark": {"type": "line"},
      "encoding": {"y": {"field": "v", "type": "quantitative", "scale": {"domain": [0, 500], "nice": false},
        "axis": {"values": [0, 100, 200, 300, 400, 500], "title": "Fluorescence Intensity", "titleFontWeight": "normal", "titleFontSize": 13, "titlePadding": 17,
          "labelExpr": "datum.value == 0 ? '0.000' : format(datum.value, '.1f')"}},
        "strokeDash": {"field": "s", "type": "nominal", "scale": {"domain": ["Ferak", "Aldrich", "Polysciences"], "range": [[1, 0], [5, 3], [1.5, 2]]}, "legend": {"title": null, "labelExpr": "': ' + datum.label"}}}},
     {"data": {"name": "t4"}, "mark": {"type": "text", "align": "left", "baseline": "middle", "font": "DejaVu Serif", "fontWeight": "bold", "fontSize": 12},
      "encoding": {"y": {"field": "v", "type": "quantitative", "scale": {"domain": [0, 500], "nice": false},
        "axis": {"orient": "right", "values": [0, 100, 200, 300, 400, 500], "labels": false, "title": null, "domain": false}},
        "text": {"field": "label"}}},
     {"data": {"name": "g4"}, "mark": {"type": "text", "align": "left", "baseline": "middle", "font": "Liberation Serif", "fontSize": 15},
      "encoding": {"y": {"field": "v", "type": "quantitative", "scale": {"domain": [0, 500], "nice": false}, "axis": null},
        "text": {"field": "label"}}}
    ],
    "resolve": {"axis": {"y": "independent"}}
   }
  ]
 }
]
}
